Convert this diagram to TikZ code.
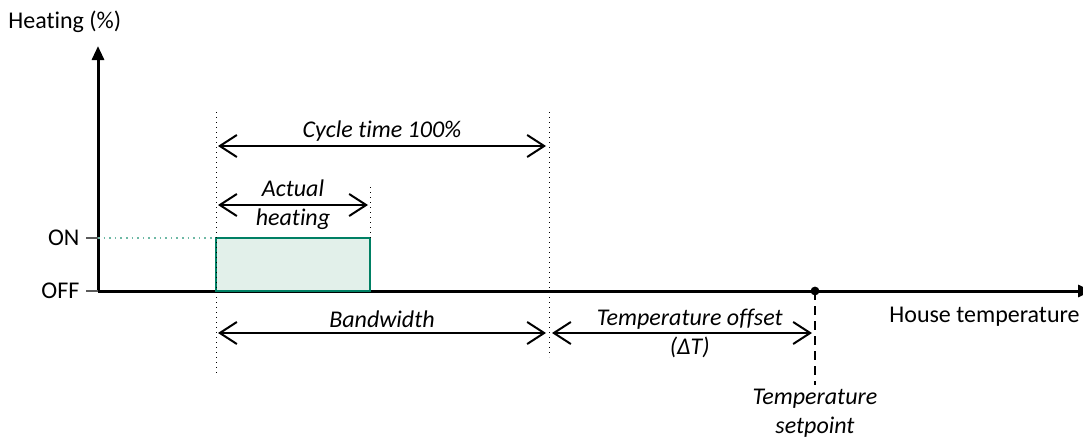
\documentclass[tikz,border=0pt,12pt]{standalone}
\usepackage{fontspec}
\setmainfont{Carlito}[Ligatures=NoCommon]
\usetikzlibrary{arrows.meta,positioning}
\definecolor{HeatGreen}{RGB}{0,128,100}
\definecolor{HeatFill}{RGB}{226,240,234}
\definecolor{OnDots}{RGB}{110,185,165}
\definecolor{TickGray}{RGB}{90,90,90}
\tikzset{
  span/.style={{Straight Barb[length=8.5pt,width=11pt]}-{Straight Barb[length=8.5pt,width=11pt]},line width=1pt},
  guide/.style={dotted,line width=0.5pt},
  lbl/.style={font=\itshape,align=center,inner sep=1pt}
}
\begin{document}
\begin{tikzpicture}[x=0.5pt,y=-0.5pt,>=Latex]
  \useasboundingbox (0,0) rectangle (1083,439);
  % axes
  \coordinate (O) at (98,291);
  \coordinate (ytop) at (98,46);
  \coordinate (xend) at (1092,291);
  \coordinate (on) at (98,238);
  \node[anchor=west,inner sep=0pt] (ylabel) at (8,22) {Heating (\%)};
  \draw[line width=1.5pt,-{Triangle[length=7pt,width=6pt]}] (O) -- (ytop);
  \draw[line width=1.5pt,-{Triangle[length=7pt,width=6pt]}] (O) -- (xend);
  \node[anchor=west,inner sep=0pt] (xlabel) at (889,317) {House temperature};
  % ON / OFF ticks
  \draw[TickGray,line width=0.6pt] (on) -- ++(-12,0) node[left,black,inner sep=3pt] (onlbl) {ON};
  \draw[TickGray,line width=0.6pt] (O) -- ++(-12,0) node[left,black,inner sep=3pt] (offlbl) {OFF};
  % heating pulse
  \coordinate (p1) at (216,291);
  \coordinate (p2) at (370,238);
  \draw[OnDots,dotted,line width=0.8pt] (on) -- (216,238);
  \draw[HeatGreen,fill=HeatFill,line width=1pt] (p1) rectangle (p2);
  % guide lines
  \draw[guide] (216,112) -- (216,375);
  \draw[guide] (370,187) -- (p2);
  \draw[guide] (549,112) -- (549,357);
  % spans
  \coordinate (c1) at (218,146);
  \coordinate (c2) at (546,146);
  \draw[span] (c1) -- (c2) node[midway,above=1pt,lbl] (cycle) {Cycle time 100\%};
  \coordinate (a1) at (218,205);
  \coordinate (a2) at (368,205);
  \draw[span] (a1) -- (a2) node[midway,lbl] (actual) {Actual\\heating};
  \coordinate (b1) at (218,333);
  \coordinate (b2) at (546,333);
  \draw[span] (b1) -- (b2) node[midway,above=1pt,lbl] (band) {Bandwidth};
  % setpoint
  \coordinate (sp) at (815,291);
  \coordinate (spend) at (815,385);
  \coordinate (t1) at (552,333);
  \coordinate (t2) at (812,333);
  \draw[span] (t1) -- (t2) node[pos=0.53,lbl] (offset) {Temperature offset\\(ΔT)};
  \draw[line width=1pt,dash pattern=on 4.5pt off 3pt] (sp) -- (spend);
  \fill (sp) circle (2.2pt);
  \node[lbl,below=1pt of spend] (setp) {Temperature\\setpoint};
\end{tikzpicture}
\end{document}
